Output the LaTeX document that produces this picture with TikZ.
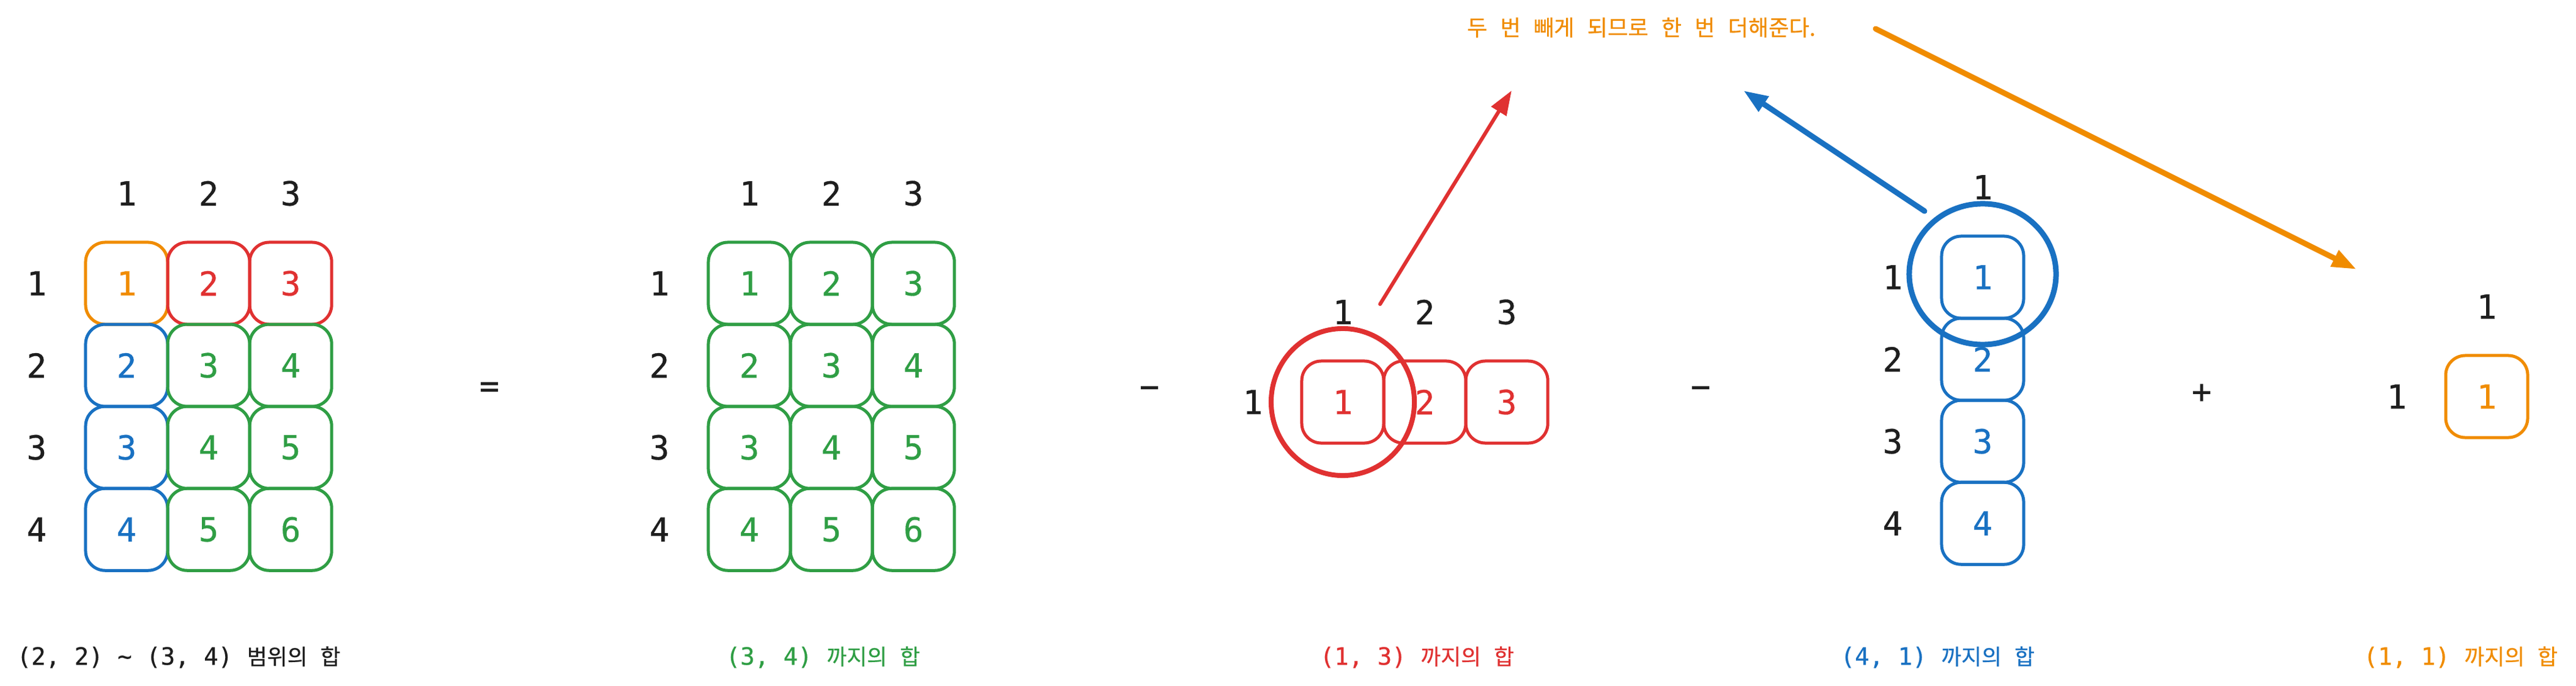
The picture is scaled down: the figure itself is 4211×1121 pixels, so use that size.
\documentclass[tikz,border=0pt]{standalone}
\usepackage{fontspec}
\usetikzlibrary{positioning,arrows.meta}
\newfontfamily\monofont[FakeBold=0.6]{DejaVu Sans Mono}
\newfontfamily\krfont[WordSpace=2.6,FakeBold=0.4]{Noto Sans CJK KR}
\definecolor{kblack}{HTML}{1E1E1E}
\definecolor{korange}{HTML}{F08C00}
\definecolor{kred}{HTML}{E03131}
\definecolor{kblue}{HTML}{1971C2}
\definecolor{kgreen}{HTML}{2F9E44}
\newcommand{\rangesum}[2]{{\monofont\fontsize{11.1pt}{13pt}\selectfont #1 }{\krfont\fontsize{10.2pt}{12pt}\selectfont #2}}
\begin{document}
\begin{tikzpicture}[x=0.01cm,y=-0.01cm,node distance=1.34cm,
      cell node/.style={rectangle,rounded corners=0.32cm,draw,line width=0.05cm,
        minimum width=1.34cm,minimum height=1.34cm,inner sep=0pt,
        font=\monofont\fontsize{15.4pt}{18pt}\selectfont},
      orange cell/.style={cell node,draw=korange,text=korange},
      red cell/.style={cell node,draw=kred,text=kred},
      blue cell/.style={cell node,draw=kblue,text=kblue},
      green cell/.style={cell node,draw=kgreen,text=kgreen},
      index node/.style={inner sep=0pt,text=kblack,node distance=1.47cm,
        font=\monofont\fontsize{15.4pt}{18pt}\selectfont},
      sum node/.style={anchor=west,inner sep=0pt},
      big arrow/.style={line width=0.09cm,line cap=round,-{Triangle[length=0.4cm,width=0.28cm]}}]

      \path[fill=white,use as bounding box] (0,0) rectangle (4211,1121);

      % (2,2) ~ (3,4)
      \node[orange cell] (a11) at (207,463) {1};
      \node[red cell] (a12) [right of=a11] {2};
      \node[red cell] (a13) [right of=a12] {3};
      \node[blue cell] (a21) [below of=a11] {2};
      \node[green cell] (a22) [right of=a21] {3};
      \node[green cell] (a23) [right of=a22] {4};
      \node[blue cell] (a31) [below of=a21] {3};
      \node[green cell] (a32) [right of=a31] {4};
      \node[green cell] (a33) [right of=a32] {5};
      \node[blue cell] (a41) [below of=a31] {4};
      \node[green cell] (a42) [right of=a41] {5};
      \node[green cell] (a43) [right of=a42] {6};
      \node[index node] (ac1) [above of=a11] {1};
      \node[index node] (ac2) [above of=a12] {2};
      \node[index node] (ac3) [above of=a13] {3};
      \node[index node] (ar1) [left of=a11] {1};
      \node[index node] (ar2) [left of=a21] {2};
      \node[index node] (ar3) [left of=a31] {3};
      \node[index node] (ar4) [left of=a41] {4};

      \node[index node] (eq) at (800,637) {=};

      % (3,4)
      \node[green cell] (g11) at (1225,463) {1};
      \node[green cell] (g12) [right of=g11] {2};
      \node[green cell] (g13) [right of=g12] {3};
      \node[green cell] (g21) [below of=g11] {2};
      \node[green cell] (g22) [right of=g21] {3};
      \node[green cell] (g23) [right of=g22] {4};
      \node[green cell] (g31) [below of=g21] {3};
      \node[green cell] (g32) [right of=g31] {4};
      \node[green cell] (g33) [right of=g32] {5};
      \node[green cell] (g41) [below of=g31] {4};
      \node[green cell] (g42) [right of=g41] {5};
      \node[green cell] (g43) [right of=g42] {6};
      \node[index node] (gc1) [above of=g11] {1};
      \node[index node] (gc2) [above of=g12] {2};
      \node[index node] (gc3) [above of=g13] {3};
      \node[index node] (gr1) [left of=g11] {1};
      \node[index node] (gr2) [left of=g21] {2};
      \node[index node] (gr3) [left of=g31] {3};
      \node[index node] (gr4) [left of=g41] {4};

      \node[index node] (minus1) at (1879,641) {−};

      % (1,3)
      \node[red cell] (r1) at (2195,657) {1};
      \node[red cell] (r2) [right of=r1] {2};
      \node[red cell] (r3) [right of=r2] {3};
      \node[index node] (rc1) [above of=r1] {1};
      \node[index node] (rc2) [above of=r2] {2};
      \node[index node] (rc3) [above of=r3] {3};
      \node[index node] (rr1) [left of=r1] {1};

      \node[index node] (minus2) at (2780,641) {−};

      % (4,1)
      \node[blue cell] (b1) at (3241,453) {1};
      \node[blue cell] (b2) [below of=b1] {2};
      \node[blue cell] (b3) [below of=b2] {3};
      \node[blue cell] (b4) [below of=b3] {4};
      \node[index node] (bc1) [above of=b1] {1};
      \node[index node] (br1) [left of=b1] {1};
      \node[index node] (br2) [left of=b2] {2};
      \node[index node] (br3) [left of=b3] {3};
      \node[index node] (br4) [left of=b4] {4};

      \node[index node] (plus) at (3599,643) {+};

      % (1,1)
      \node[orange cell] (o1) at (4065,648) {1};
      \node[index node] (oc1) [above of=o1] {1};
      \node[index node] (or1) [left of=o1] {1};

      \draw[kred,line width=0.08cm] (r1) ellipse [x radius=1.17cm,y radius=1.2cm];
      \draw[kblue,line width=0.09cm] ([yshift=0.05cm]b1) ellipse [x radius=1.2cm,y radius=1.15cm];

      \node[text=korange,inner sep=0pt,font=\krfont\fontsize{10.3pt}{12pt}\selectfont] (note)
        at (2683,45) {두 번 빼게 되므로 한 번 더해준다.};

      \coordinate (redtail) at (2256,497);
      \coordinate (redtip) at (2471,148);
      \coordinate (bluetail) at (3146,345);
      \coordinate (bluetip) at (2850,148);
      \coordinate (orangetail) at (3066,47);
      \coordinate (orangetip) at (3852,440);
      \draw[big arrow,kred,line width=0.06cm] (redtail) -- (redtip);
      \draw[big arrow,kblue] (bluetail) -- (bluetip);
      \draw[big arrow,korange] (orangetail) -- (orangetip);

      \node[sum node,text=kblack] (s1) at (27,1074) {\rangesum{(2, 2) \textasciitilde{} (3, 4)}{범위의 합}};
      \node[sum node,text=kgreen] (s2) at (1186,1074) {\rangesum{(3, 4)}{까지의 합}};
      \node[sum node,text=kred] (s3) at (2157,1074) {\rangesum{(1, 3)}{까지의 합}};
      \node[sum node,text=kblue] (s4) at (3008,1074) {\rangesum{(4, 1)}{까지의 합}};
      \node[sum node,text=korange] (s5) at (3863,1074) {\rangesum{(1, 1)}{까지의 합}};
    \end{tikzpicture}
\end{document}
